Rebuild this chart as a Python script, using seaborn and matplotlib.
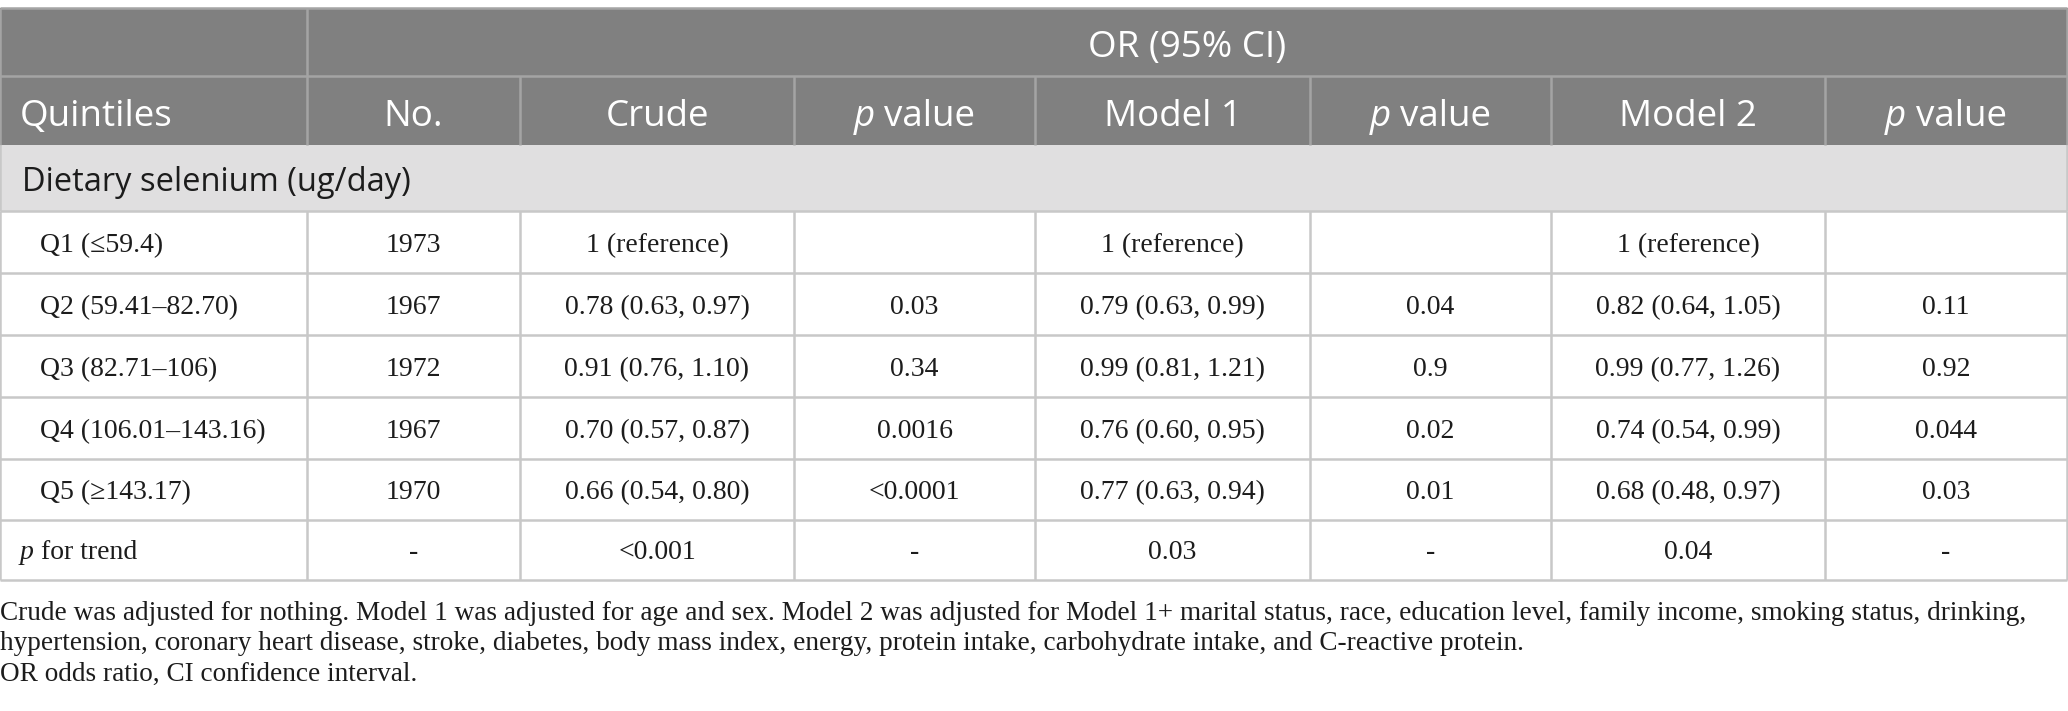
import seaborn as sns
import matplotlib.pyplot as plt
from matplotlib.patches import Rectangle

# table contents
quintiles = ["Q1 (\u226459.4)", "Q2 (59.41\u201382.70)", "Q3 (82.71\u2013106)",
             "Q4 (106.01\u2013143.16)", "Q5 (\u2265143.17)"]
counts = ["1973", "1967", "1972", "1967", "1970"]
crude_or = ["1 (reference)", "0.78 (0.63, 0.97)", "0.91 (0.76, 1.10)",
            "0.70 (0.57, 0.87)", "0.66 (0.54, 0.80)"]
crude_p = ["", "0.03", "0.34", "0.0016", "<0.0001"]
model1_or = ["1 (reference)", "0.79 (0.63, 0.99)", "0.99 (0.81, 1.21)",
             "0.76 (0.60, 0.95)", "0.77 (0.63, 0.94)"]
model1_p = ["", "0.04", "0.9", "0.02", "0.01"]
model2_or = ["1 (reference)", "0.82 (0.64, 1.05)", "0.99 (0.77, 1.26)",
             "0.74 (0.54, 0.99)", "0.68 (0.48, 0.97)"]
model2_p = ["", "0.11", "0.92", "0.044", "0.03"]
trend_row = ["-", "<0.001", "-", "0.03", "-", "0.04", "-"]
col_headers = ["Quintiles", "No.", "Crude", "p value", "Model 1", "p value", "Model 2", "p value"]
group_header = "OR (95% CI)"
section_label = "Dietary selenium (ug/day)"
footnotes = [
    "Crude was adjusted for nothing. Model 1 was adjusted for age and sex. Model 2 was adjusted for "
    "Model 1+ marital status, race, education level, family income, smoking status, drinking,",
    "hypertension, coronary heart disease, stroke, diabetes, body mass index, energy, protein intake, "
    "carbohydrate intake, and C-reactive protein.",
    "OR odds ratio, CI confidence interval.",
]

sns.set_theme(style="white")
SANS = ["Open Sans", "DejaVu Sans"]
SERIF = ["Liberation Serif", "DejaVu Serif"]
plt.rcParams["font.family"] = SERIF

W, H = 2068, 711
fig = plt.figure(figsize=(W / 100, H / 100), dpi=100)
ax = fig.add_axes([0, 0, 1, 1])
ax.set_xlim(0, W)
ax.set_ylim(H, 0)
ax.axis("off")

col_edges = [0, 307, 520, 794, 1035, 1310, 1551, 1825, 2067]
row_edges = [8, 76, 145, 211, 273, 335, 397, 459, 520, 580]
centers = [(a + b) / 2 for a, b in zip(col_edges[:-1], col_edges[1:])]

head_bg = "#808080"
sect_bg = "#e0dfe0"
head_line = "#a4a4a4"
body_line = "#c8c8c8"
ink = "#1c1c1c"
head_size = 26.5
sect_size = 23.5
serif_size = 20
note_size = 19.6

# backgrounds
ax.add_patch(Rectangle((0, row_edges[0]), W, row_edges[2] - row_edges[0], color=head_bg, lw=0))
ax.add_patch(Rectangle((0, row_edges[2]), W, row_edges[3] - row_edges[2], color=sect_bg, lw=0))

# header grid
ax.hlines([row_edges[0], row_edges[1]], 0, col_edges[-1], color=head_line, lw=1.8)
ax.vlines([0, col_edges[1], col_edges[-1]], row_edges[0], row_edges[2], color=head_line, lw=1.8)
ax.vlines(col_edges[2:-1], row_edges[1], row_edges[2], color=head_line, lw=1.8)
ax.vlines([0, col_edges[-1]], row_edges[2], row_edges[3], color=body_line, lw=1.8)

# body grid
ax.hlines(row_edges[3:], 0, col_edges[-1], color=body_line, lw=1.8)
ax.vlines(col_edges, row_edges[3], row_edges[-1], color=body_line, lw=1.8)

renderer = fig.canvas.get_renderer()


def rich(x, y, parts, ha, family, size, color):
    # parts: list of (text, italic)
    objs = []
    for s, it in parts:
        t = ax.text(0, y, s, family=family, size=size, color=color,
                    style="italic" if it else "normal", va="baseline", ha="left")
        objs.append(t)
    space = size * 100 / 72 * 0.26
    widths = [t.get_window_extent(renderer).width for t in objs]
    total = sum(widths) + space * (len(objs) - 1)
    x0 = x - total / 2 if ha == "center" else x
    for t, w in zip(objs, widths):
        t.set_x(x0)
        x0 += w + space


def base_head(i):
    return row_edges[i + 1] - 19


def base_body(i):
    return row_edges[i + 1] - 21


# header rows
ax.text((col_edges[1] + col_edges[-1]) / 2, base_head(0), group_header, family=SANS,
        size=head_size, color="white", ha="center", va="baseline")
for j, lab in enumerate(col_headers):
    if lab.startswith("p "):
        rich(centers[j], base_head(1), [("p", True), (lab[2:], False)], "center",
             SANS, head_size, "white")
    elif j == 0:
        ax.text(20, base_head(1), lab, family=SANS, size=head_size, color="white", va="baseline")
    else:
        ax.text(centers[j], base_head(1), lab, family=SANS, size=head_size, color="white",
                ha="center", va="baseline")

ax.text(22, row_edges[3] - 20, section_label, family=SANS, size=sect_size, color=ink,
        va="baseline")

# body rows
columns = [counts, crude_or, crude_p, model1_or, model1_p, model2_or, model2_p]
for i, q in enumerate(quintiles):
    y = base_body(3 + i)
    ax.text(40, y, q, family=SERIF, size=serif_size, color=ink, va="baseline")
    for j, col in enumerate(columns):
        ax.text(centers[j + 1], y, col[i], family=SERIF, size=serif_size, color=ink,
                ha="center", va="baseline")

y = base_body(8)
rich(20, y, [("p", True), ("for trend", False)], "left", SERIF, serif_size, ink)
for j, val in enumerate(trend_row):
    ax.text(centers[j + 1], y, val, family=SERIF, size=serif_size, color=ink,
            ha="center", va="baseline")

# notes
for k, line in enumerate(footnotes):
    ax.text(0, 613 + 30.5 * k, line, family=SERIF, size=note_size, color=ink, va="center")

fig.savefig("out.png", dpi=100)
